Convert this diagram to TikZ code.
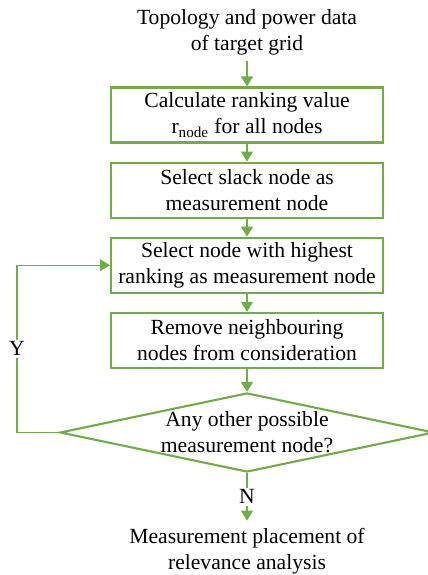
\documentclass[tikz,border=0pt]{standalone}
\usepackage{fontspec}
\setmainfont{Liberation Serif}
\usetikzlibrary{positioning}
\usetikzlibrary{shapes.geometric}
\usetikzlibrary{arrows.meta}
\definecolor{flowgreen}{RGB}{112,173,71}

\begin{document}
\begin{tikzpicture}[
    font=\fontsize{12.3}{14.8}\selectfont,
    box/.style={draw=flowgreen, line width=1.2pt, minimum width=5.44cm, minimum height=1.1cm, align=center, inner sep=2pt},
    decision/.style={diamond, aspect=4.56, draw=flowgreen, line width=1.2pt, minimum width=7.48cm, align=center, inner sep=0pt},
    flow/.style={draw=flowgreen, line width=0.7pt, -{Triangle[width=0.24cm,length=0.2cm]}},
    lbl/.style={fill=white, inner sep=1pt}
  ]
    \useasboundingbox (0,0) rectangle (8.54,-11.5);

    \node [align=center] (input) at (4.94,-0.64) {Topology and power data\\of target grid};
    \node [box] (rank) at (4.94,-2.3) {Calculate ranking value\\r\textsubscript{node} for all nodes};
    \node [box, below=0.36cm of rank] (slack) {Select slack node as\\measurement node};
    \node [box, below=0.36cm of slack] (highest) {Select node with highest\\ranking as measurement node};
    \node [box, below=0.36cm of highest] (remove) {Remove neighbouring\\nodes from consideration};
    \node [decision, below=0.46cm of remove] (check) {Any other possible\\measurement node?};
    \node [align=center, inner sep=4pt, below=0.95cm of check] (output) {Measurement placement of\\relevance analysis};
    \coordinate (loop) at (0.34,0);

    \draw [flow] (input) -- (rank);
    \draw [flow] (rank) -- (slack);
    \draw [flow] (slack) -- (highest);
    \draw [flow] (highest) -- (remove);
    \draw [flow] (remove) -- (check);
    \draw [flow] (check) -- node [lbl] {N} (output);
    % back to the selection step
    \draw [flow] (check.west) -- (check.west -| loop) -- node [lbl] {Y} (highest.west -| loop) -- (highest.west);
\end{tikzpicture}
\end{document}
